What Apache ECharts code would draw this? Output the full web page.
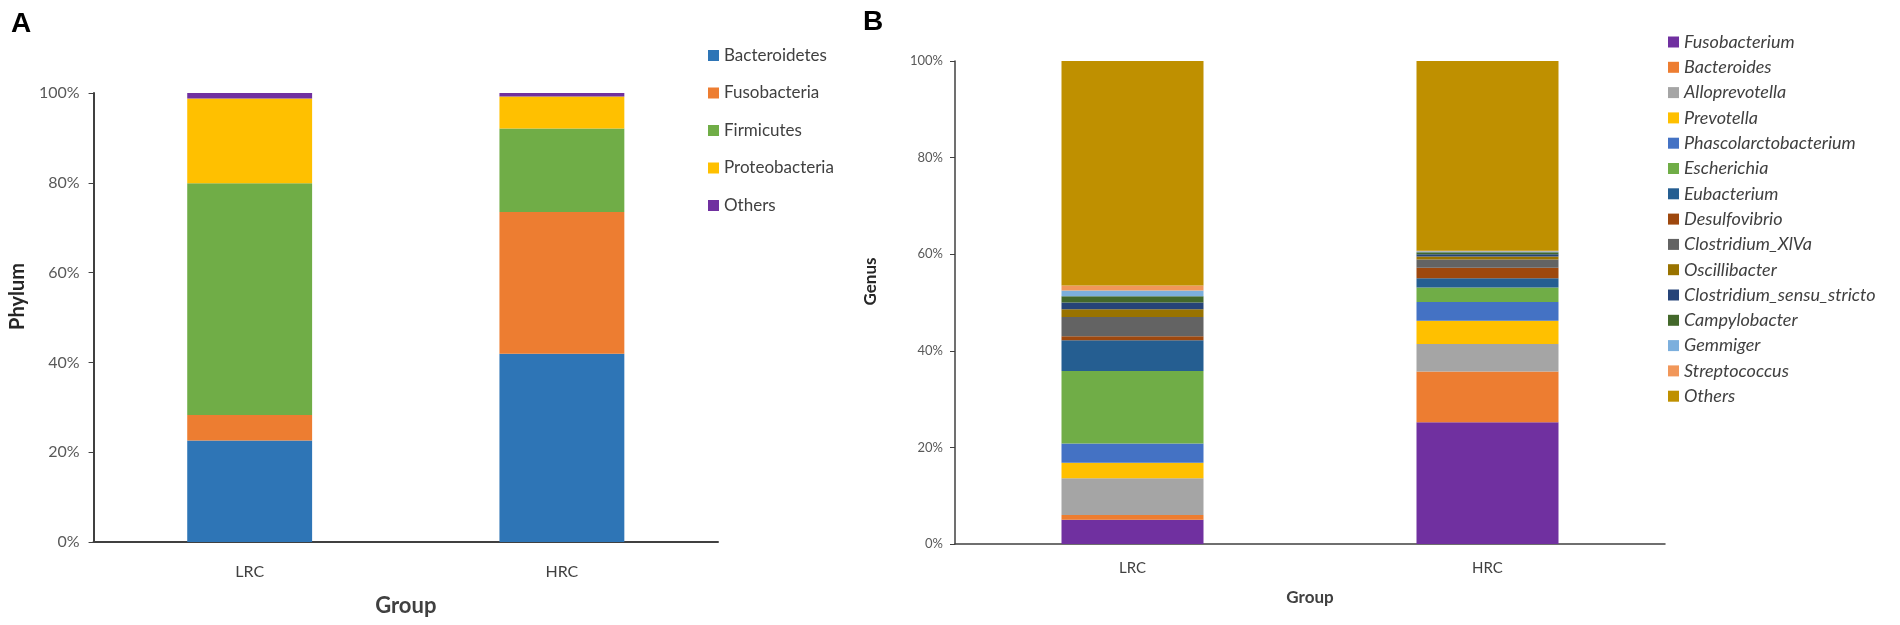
<!DOCTYPE html>
<html>
<head>
    <meta charset="utf-8">
    <title>Phylum / Genus</title>
    <script src="https://cdn.jsdelivr.net/npm/echarts@6/dist/echarts.min.js"></script>
    <style>
        body { margin: 0; background: #fff; }
        #phylum { position: absolute; left: 0; top: 0; width: 840px; height: 625px; }
        #genus { position: absolute; left: 840px; top: 0; width: 1060px; height: 625px; }
    </style>
</head>
<body>
<div id="phylum"></div>
<div id="genus"></div>

<script type="text/javascript">
    // groups on the x axis
    var groups = ['LRC', 'HRC'];
    var yTicks = [0, 20, 40, 60, 80, 100];

    // panel A - phylum (% of reads)
    var phyla = ['Bacteroidetes', 'Fusobacteria', 'Firmicutes', 'Proteobacteria', 'Others'];
    var phylumLRC = [22.6, 5.7, 51.6, 18.9, 1.2];
    var phylumHRC = [41.9, 31.6, 18.6, 7.1, 0.8];
    var phylumColors = ['#2E75B6', '#ED7D31', '#70AD47', '#FFC000', '#7030A0'];

    // panel B - genus (% of reads)
    var genera = ['Fusobacterium', 'Bacteroides', 'Alloprevotella', 'Prevotella', 'Phascolarctobacterium',
        'Escherichia', 'Eubacterium', 'Desulfovibrio', 'Clostridium_XlVa', 'Oscillibacter',
        'Clostridium_sensu_stricto', 'Campylobacter', 'Gemmiger', 'Streptococcus', 'Others'];
    var genusLRC = [5.0, 1.0, 7.6, 3.2, 4.0, 15.0, 6.4, 0.8, 4.0, 1.6, 1.4, 1.3, 1.2, 1.0, 46.5];
    var genusHRC = [25.2, 10.5, 5.7, 4.8, 3.9, 3.0, 1.9, 2.2, 1.7, 0.6, 0.5, 0.4, 0.2, 0.1, 39.3];
    var genusColors = ['#7030A0', '#ED7D31', '#A5A5A5', '#FFC000', '#4472C4', '#70AD47', '#255E91',
        '#9E480E', '#636363', '#997300', '#264478', '#43682B', '#7CAFDD', '#F1975A', '#BF9000'];

    var font = 'Lato, "Open Sans", sans-serif';

    function makeSeries(names, lrc, hrc, colors) {
        return names.map(function (n, i) {
            return {
                name: n,
                type: 'bar',
                stack: 'total',
                barWidth: '40%',
                data: [lrc[i], hrc[i]],
                itemStyle: {color: colors[i]}
            };
        });
    }

    function makeOption(o) {
        return {
            animation: false,
            title: {
                text: o.letter,
                left: o.letterLeft,
                top: o.letterTop,
                textStyle: {fontFamily: '"Liberation Sans", Arial, sans-serif', fontSize: 28, fontWeight: 'bold', color: '#000'}
            },
            legend: {
                orient: 'vertical',
                left: o.legendLeft,
                top: o.legendTop,
                icon: 'rect',
                itemWidth: 11,
                itemHeight: 11,
                itemGap: o.legendGap,
                data: o.names,
                textStyle: {fontFamily: font, fontSize: o.legendSize, fontStyle: o.legendStyle, color: '#404040'}
            },
            grid: o.grid,
            xAxis: {
                type: 'category',
                data: groups,
                name: 'Group',
                nameLocation: 'middle',
                nameGap: o.xNameGap,
                nameTextStyle: {fontFamily: font, fontSize: o.xNameSize, fontWeight: 'bold', color: '#404040'},
                axisLine: {lineStyle: {color: '#404040', width: o.lineWidth}},
                axisTick: {alignWithLabel: true, length: 5, lineStyle: {color: '#404040'}},
                axisLabel: {fontFamily: font, fontSize: o.catSize, color: '#404040', margin: o.catMargin}
            },
            yAxis: {
                type: 'value',
                min: yTicks[0],
                max: yTicks[yTicks.length - 1],
                interval: 20,
                name: o.yName,
                nameLocation: 'middle',
                nameGap: o.yNameGap,
                nameRotate: 90,
                nameTextStyle: {fontFamily: font, fontSize: o.yNameSize, fontWeight: 'bold', color: '#262626', padding: [0, 0, 0, 42]},
                axisLine: {show: true, lineStyle: {color: '#404040', width: o.lineWidth}},
                axisTick: {show: true, length: 5, lineStyle: {color: '#404040'}},
                splitLine: {show: false},
                axisLabel: {fontFamily: font, fontSize: o.tickSize, color: '#595959', margin: o.tickMargin, formatter: '{value}%'}
            },
            series: makeSeries(o.names, o.lrc, o.hrc, o.colors)
        };
    }

    var chartA = echarts.init(document.getElementById('phylum'));
    chartA.setOption(makeOption({
        letter: 'A', letterLeft: 6, letterTop: 5,
        names: phyla, lrc: phylumLRC, hrc: phylumHRC, colors: phylumColors,
        legendLeft: 703, legendTop: 42, legendGap: 20.5, legendSize: 17, legendStyle: 'normal',
        grid: {left: 86, right: 122, top: 93, bottom: 83},
        lineWidth: 2,
        xNameGap: 53, xNameSize: 22, catSize: 16, catMargin: 22,
        yName: 'Phylum', yNameGap: 58, yNameSize: 20,
        tickSize: 16, tickMargin: 14
    }));

    var chartB = echarts.init(document.getElementById('genus'));
    chartB.setOption(makeOption({
        letter: 'B', letterLeft: 18, letterTop: 3,
        names: genera, lrc: genusLRC, hrc: genusHRC, colors: genusColors,
        legendLeft: 823, legendTop: 28, legendGap: 7.3, legendSize: 18, legendStyle: 'italic',
        grid: {left: 115, right: 235, top: 61, bottom: 81},
        lineWidth: 1.5,
        xNameGap: 45, xNameSize: 17, catSize: 15, catMargin: 17,
        yName: 'Genus', yNameGap: 76, yNameSize: 17,
        tickSize: 13, tickMargin: 12
    }));
</script>
</body>
</html>
